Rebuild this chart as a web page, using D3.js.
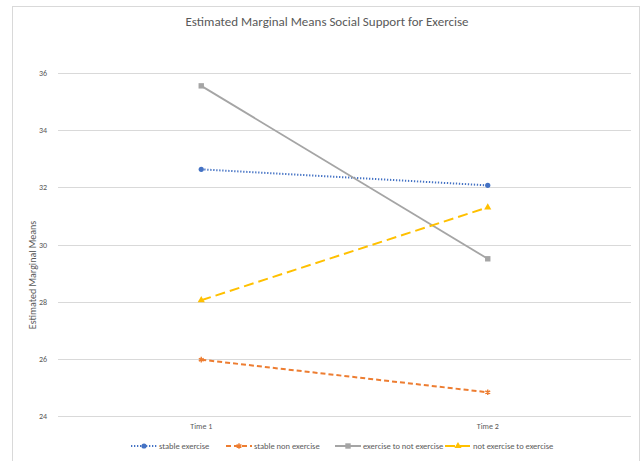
<!DOCTYPE html>
<html>
<head>
<meta charset="utf-8">
<script src="https://cdn.jsdelivr.net/npm/d3@7"></script>
<style>
  body { margin: 0; background: #fff; }
  text { font-family: Carlito, "Liberation Sans", "Open Sans", sans-serif; fill: #595959; }
</style>
</head>
<body>
<div id="chart"></div>
<script>
const times = ["Time 1", "Time 2"];
const seriesNames = ["stable exercise", "stable non exercise", "exercise to not exercise", "not exercise to exercise"];
const stableExercise = [32.63, 32.07];
const stableNonExercise = [25.97, 24.83];
const exerciseToNot = [35.55, 29.5];
const notToExercise = [28.05, 31.3];
const yTicks = [24, 26, 28, 30, 32, 34, 36];

const width = 643, height = 461;
const margin = { top: 73, right: 12, bottom: 45, left: 58 };

const series = [
  { name: seriesNames[0], values: stableExercise, color: "#4472C4", dash: "1.3,1.7", marker: "circle" },
  { name: seriesNames[1], values: stableNonExercise, color: "#ED7D31", dash: "5,3", marker: "star" },
  { name: seriesNames[2], values: exerciseToNot, color: "#A5A5A5", dash: null, marker: "square" },
  { name: seriesNames[3], values: notToExercise, color: "#FFC000", dash: "10,5", marker: "triangle" }
];

const svg = d3.select("#chart").append("svg")
  .attr("width", width)
  .attr("height", height);

// outer chart frame
svg.append("rect")
  .attr("x", 12.5).attr("y", 6.5)
  .attr("width", 627).attr("height", 470)
  .attr("fill", "none")
  .attr("stroke", "#d9d9d9");

const x = d3.scaleBand().domain(times).range([margin.left, width - margin.right]);
const y = d3.scaleLinear().domain([24, 36]).range([height - margin.bottom, margin.top]);

// gridlines
svg.append("g")
  .selectAll("line")
  .data(yTicks)
  .join("line")
  .attr("x1", margin.left).attr("x2", width - margin.right)
  .attr("y1", d => Math.round(y(d)) + 0.5).attr("y2", d => Math.round(y(d)) + 0.5)
  .attr("stroke", "#d9d9d9");

// y tick labels
svg.append("g")
  .attr("font-size", 8)
  .attr("text-anchor", "end")
  .selectAll("text")
  .data(yTicks)
  .join("text")
  .attr("x", 47)
  .attr("y", d => y(d) + 3)
  .text(d => d);

// x labels
svg.append("g")
  .attr("font-size", 8)
  .attr("text-anchor", "middle")
  .selectAll("text")
  .data(times)
  .join("text")
  .attr("x", d => x(d) + x.bandwidth() / 2)
  .attr("y", 429)
  .text(d => d);

svg.append("text")
  .attr("x", 327).attr("y", 26)
  .attr("text-anchor", "middle")
  .attr("font-size", 13)
  .text("Estimated Marginal Means Social Support  for Exercise");

svg.append("text")
  .attr("transform", "translate(36,275) rotate(-90)")
  .attr("text-anchor", "middle")
  .attr("font-size", 10)
  .text("Estimated Marginal Means");

const cx = d => x(d) + x.bandwidth() / 2;
const line = d3.line().x((d, i) => cx(times[i])).y(d => y(d));

function marker(g, type, color, px, py) {
  if (type === "circle") {
    g.append("circle").attr("cx", px).attr("cy", py).attr("r", 2.6).attr("fill", color);
  } else if (type === "square") {
    g.append("rect").attr("x", px - 2.7).attr("y", py - 2.7).attr("width", 5.4).attr("height", 5.4).attr("fill", color);
  } else if (type === "triangle") {
    g.append("path").attr("d", d3.symbol(d3.symbolTriangle, 22)()).attr("transform", `translate(${px},${py})`).attr("fill", color);
  } else {
    g.append("path").attr("d", d3.symbol(d3.symbolAsterisk, 22)()).attr("transform", `translate(${px},${py})`)
      .attr("fill", "none").attr("stroke", color).attr("stroke-width", 1.4);
  }
}

const lines = svg.append("g");
series.forEach(s => {
  lines.append("path")
    .attr("d", line(s.values))
    .attr("fill", "none")
    .attr("stroke", s.color)
    .attr("stroke-width", s.marker === "square" ? 1.8 : 2)
    .attr("stroke-dasharray", s.dash);
  s.values.forEach((v, i) => marker(lines, s.marker, s.color, cx(times[i]), y(v)));
});

// legend
const legendX = [131, 226, 335, 445];
const legend = svg.append("g").attr("font-size", 8.5);
series.forEach((s, i) => {
  const lx = legendX[i], ly = 446;
  legend.append("line")
    .attr("x1", lx).attr("x2", lx + 26)
    .attr("y1", ly).attr("y2", ly)
    .attr("stroke", s.color)
    .attr("stroke-width", 2)
    .attr("stroke-dasharray", s.dash);
  marker(legend, s.marker, s.color, lx + 13, ly);
  legend.append("text")
    .attr("x", lx + 28).attr("y", ly + 3)
    .text(s.name);
});
</script>
</body>
</html>
